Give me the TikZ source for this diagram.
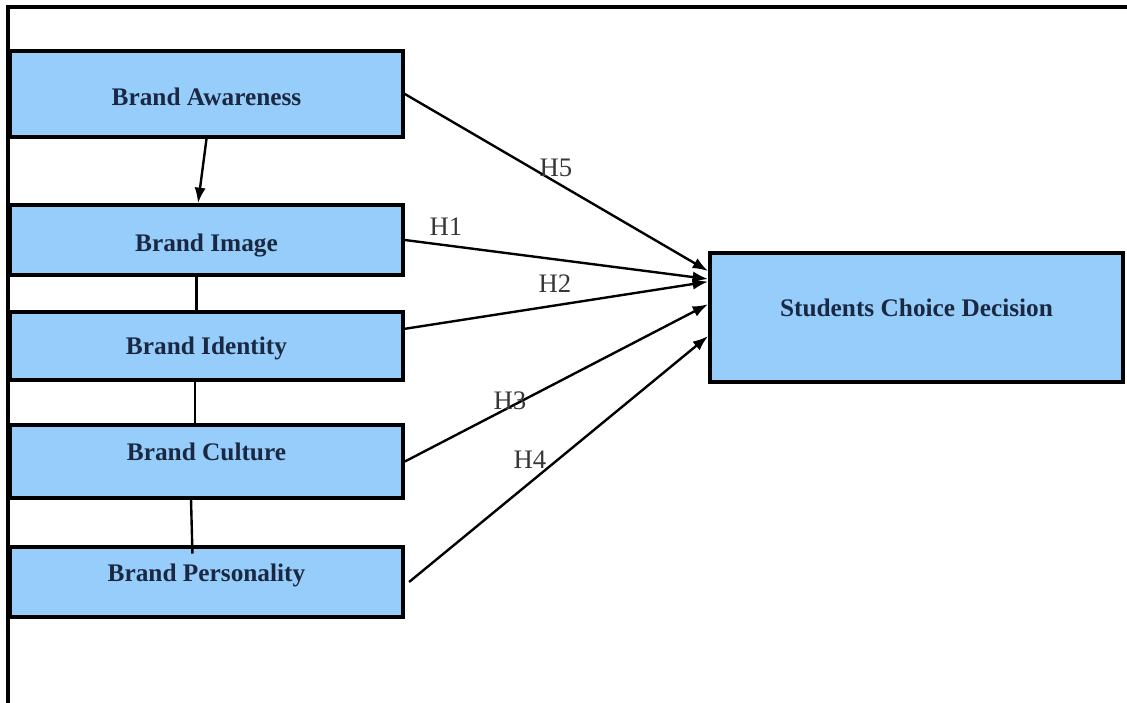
\documentclass[tikz,border=0pt]{standalone}
\usepackage{fontspec}
\setmainfont{Liberation Serif}
\usetikzlibrary{calc,arrows.meta}
\definecolor{boxblue}{RGB}{150,205,250}
\definecolor{boxtext}{RGB}{26,40,66}
\definecolor{hyptext}{RGB}{55,55,55}

\begin{document}
\begin{tikzpicture}[x=0.025cm, y=-0.025cm,
  brandbox/.style={draw=black, line width=2.6pt, fill=boxblue, inner sep=0pt,
    minimum width=9.825cm, text=boxtext, font=\fontsize{18}{20}\selectfont\bfseries},
  textpos/.style 2 args={text height=#1, text depth=#2},
  hyp/.style={line width=1.7pt, -{Latex[length=11pt,width=8pt]}},
  link/.style={line width=1.7pt},
  hlabel/.style={text=hyptext, inner sep=0pt, font=\fontsize{19}{21}\selectfont}]
\useasboundingbox (0,0) rectangle (1127,703);
\draw[line width=2.2pt] (8,703) -- (8,7) -- (1127,7); %%frame

\node[brandbox, minimum height=2.15cm, textpos={16pt}{0pt}] (aware) at (206.5,94) {Brand Awareness};
\node[brandbox, minimum height=1.75cm, textpos={16pt}{0pt}] (image) at (206.5,240) {Brand Image};
\node[brandbox, minimum height=1.7cm, textpos={12pt}{0pt}] (ident) at (206.5,346) {Brand Identity};
\node[brandbox, minimum height=1.825cm, textpos={12pt}{13.6pt}] (cult) at (206.5,461.5) {Brand Culture};
\node[brandbox, minimum height=1.75cm, textpos={12pt}{12.8pt}] (pers) at (206.5,582) {Brand Personality};
\node[brandbox, minimum width=10.325cm, minimum height=3.225cm, textpos={12pt}{13.6pt}] (scd) at (916.5,317.5) {Students Choice Decision};

%%left column
\draw[hyp] (aware.south) -- ([xshift=-6pt]image.north);
\draw[link] ([xshift=-7pt]image.south) -- ([xshift=-7pt]ident.north);
\draw[link] ([xshift=-8pt]ident.south) -- ([xshift=-8pt]cult.north);
\draw[link] ([xshift=-11pt]cult.south) -- ([xshift=-10pt,yshift=-6pt]pers.north);

%%hypotheses
\draw[hyp] (aware.east) -- ($(scd.north west)!0.15!(scd.south west)$);
\draw[hyp] (image.east) -- ($(scd.north west)!0.21!(scd.south west)$);
\draw[hyp] ($(ident.north east)!0.26!(ident.south east)$) -- ($(scd.north west)!0.23!(scd.south west)$);
\draw[hyp] (cult.east) -- ($(scd.north west)!0.40!(scd.south west)$);
\draw[hyp] ([xshift=3pt]pers.east) -- ($(scd.north west)!0.64!(scd.south west)$);

\node[hlabel] (h5) at (556,168) {H5};
\node[hlabel] (h1) at (446,227) {H1};
\node[hlabel] (h2) at (555,284) {H2};
\node[hlabel] (h3) at (510,401) {H3};
\node[hlabel] (h4) at (530,460) {H4};
\end{tikzpicture}
\end{document}
